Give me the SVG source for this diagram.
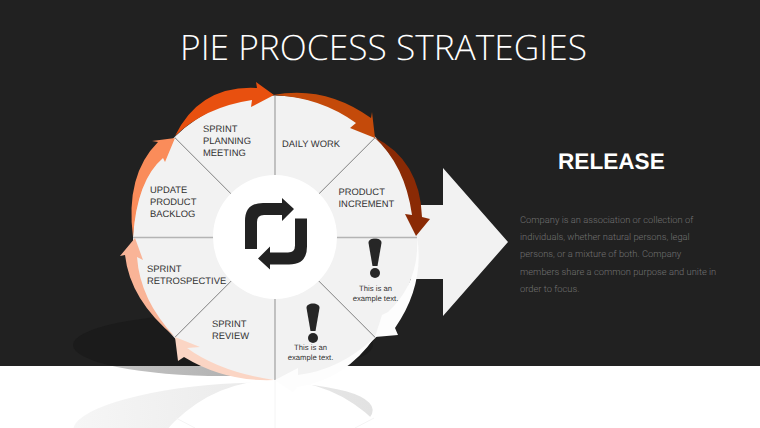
<svg xmlns="http://www.w3.org/2000/svg" width="760" height="428" viewBox="0 0 760 428">
<defs>
<style>
text{text-rendering:geometricPrecision}
.l{font-family:"Liberation Sans",Arial,sans-serif;font-size:9.4px;fill:#333}
.s{font-family:"Liberation Sans",Arial,sans-serif;font-size:7.7px;fill:#333;text-anchor:middle}
.b{font-family:Roboto,"Liberation Sans",sans-serif;font-weight:300;font-size:9.35px;fill:#727272}
.w{fill:#f2f2f2}
.v{stroke:#b4b4b4;stroke-width:1.6;fill:none}
.d{stroke:#8a8a8a;stroke-width:.8;fill:none}
</style>
<clipPath id="top"><rect width="760" height="366"/></clipPath>
<clipPath id="bot"><rect y="366" width="760" height="62"/></clipPath>
<linearGradient id="sh" x1="0" x2="1" y1="0" y2="0"><stop offset="0" stop-color="#c8c8c8"/><stop offset=".5" stop-color="#b4b4b4"/><stop offset="1" stop-color="#d8d8d8"/></linearGradient>
<linearGradient id="rf" x1="0" x2="1" y1="0" y2="0"><stop offset="0" stop-color="#f6f6f6"/><stop offset=".6" stop-color="#ebebeb"/><stop offset="1" stop-color="#e2e2e2"/></linearGradient>
<g id="ex"><path d="M368.500 243C368 237 382 237 381.500 243L377.500 266H372.500Z" fill="#262626"/><circle cx="375" cy="273" r="5" fill="#262626"/></g>
<path id="ic" d="M245 249V221Q245 203 263 203H282V198L294 209L282 221V215H264Q257 215 257 222V249Z"/>
</defs>
<rect width="760" height="366" fill="#212121"/>
<rect y="366" width="760" height="62" fill="#fff"/>
<g id="shadow">
<ellipse cx="223" cy="345" rx="150" ry="31" fill="#1b1b1b" clip-path="url(#top)"/>
<ellipse cx="223" cy="345" rx="150" ry="31" fill="url(#sh)" clip-path="url(#bot)"/>
<ellipse cx="223" cy="420" rx="150" ry="36" transform="rotate(-4 223 420)" fill="url(#rf)" clip-path="url(#bot)"/>
<circle cx="275" cy="522" r="142" fill="#fff" clip-path="url(#bot)"/>
<path d="M275 380V428M176 418L195 428M374 418L355 428" stroke="#f4f4f4" fill="none"/>
</g>
<g id="release-arrow"><path class="w" d="M380 205H443V168L508 242L443 316V279H380Z"/></g>
<g id="pie-daily-work"><path class="w" d="M275 95.500A142 142 0 0 1 375.400 137.100L275 237.500Z"/><text class="l" x="282" y="147">DAILY WORK</text></g>
<g id="pie-product-increment"><path class="w" d="M375.400 137.100A142 142 0 0 1 417 237.500H275Z"/><text class="l"><tspan x="338.500" y="195">PRODUCT</tspan><tspan x="338.500" y="206.500">INCREMENT</tspan></text></g>
<g id="pie-example-1"><path class="w" d="M417 237.500A142 142 0 0 1 375.400 337.900L275 237.500Z"/><use href="#ex"/><text class="s"><tspan x="375.500" y="291">This is an</tspan><tspan x="375.500" y="300.500">example text.</tspan></text></g>
<g id="pie-example-2"><path class="w" d="M375.400 337.900A142 142 0 0 1 275 379.500V237.500Z"/><use href="#ex" x="-62" y="65"/><text class="s"><tspan x="310.500" y="350">This is an</tspan><tspan x="310.500" y="359.500">example text.</tspan></text></g>
<g id="pie-sprint-review"><path class="w" d="M275 379.500A142 142 0 0 1 174.600 337.900L275 237.500Z"/><text class="l"><tspan x="212" y="327">SPRINT</tspan><tspan x="212" y="339">REVIEW</tspan></text></g>
<g id="pie-sprint-retrospective"><path class="w" d="M174.600 337.900A142 142 0 0 1 133 237.500H275Z"/><text class="l"><tspan x="147" y="272">SPRINT</tspan><tspan x="147" y="284">RETROSPECTIVE</tspan></text></g>
<g id="pie-update-backlog"><path class="w" d="M133 237.500A142 142 0 0 1 174.600 137.100L275 237.500Z"/><text class="l"><tspan x="150" y="193">UPDATE</tspan><tspan x="150" y="205">PRODUCT</tspan><tspan x="150" y="216.500">BACKLOG</tspan></text></g>
<g id="pie-sprint-planning"><path class="w" d="M174.600 137.100A142 142 0 0 1 275 95.500V237.500Z"/><text class="l"><tspan x="203" y="132">SPRINT</tspan><tspan x="203" y="144">PLANNING</tspan><tspan x="203" y="155.500">MEETING</tspan></text></g>
<g id="spokes">
<path class="v" d="M275 96V176M275 299V380M133 237.500H214M336 237.500H417"/>
<path class="d" d="M175 138L231 194M319 194L375 138M319 281L375 337M231 281L175 337"/>
</g>
<g id="connectors">
<path fill="#e8500f" d="M175 136Q200 85 257 88L256 82L274 95L251 107L252 100Q205 107 175 136Z"/>
<path fill="#c44a0a" d="M273 95Q325 85 371 118L372 112L375 138L350 128L356 123Q320 97 273 95Z"/>
<path fill="#8a2a05" d="M374 137Q420 160 422 217L430 219L416 236L405 214L412 215Q405 165 374 137Z"/>
<path fill="#fdfdfd" d="M417 236Q425 285 395 328L398 335L375 337L382 315L388 312Q420 282 417 236Z"/>
<path fill="#fdfdfd" d="M375 337Q345 380 297 387L293 392L275 380L298 368L298 375Q340 370 375 337Z"/>
<path fill="#fbd5c4" d="M274 380Q225 382 184 357L178 361L175 337L200 347L187 348Q220 372 274 380Z"/>
<path fill="#f9b497" d="M175 337Q130 300 125 255L120 256L135 238L143 260L137 257Q140 300 175 337Z"/>
<path fill="#fa8c5a" d="M133 237Q125 175 158 142L152 141L175 138L165 162L163 158Q137 180 133 237Z"/>
</g>
<g id="hub">
<circle cx="275" cy="237" r="62" fill="#fff"/>
<g fill="#222"><use href="#ic"/><use href="#ic" transform="rotate(180 276 233.750)"/></g>
</g>
<text x="383.500" y="60" text-anchor="middle" font-family="'Open Sans','Liberation Sans',sans-serif" font-weight="300" font-size="35" fill="#fff" textLength="407" lengthAdjust="spacingAndGlyphs">PIE PROCESS STRATEGIES</text>
<text x="558" y="169" font-family="'Liberation Sans',Arial,sans-serif" font-weight="700" font-size="22.600" fill="#fff">RELEASE</text>
<text class="b"><tspan x="520" y="223">Company is an association or collection of</tspan><tspan x="520" y="240">individuals, whether natural persons, legal</tspan><tspan x="520" y="257">persons, or a mixture of both. Company</tspan><tspan x="520" y="275">members share a common purpose and unite in</tspan><tspan x="520" y="292">order to focus.</tspan></text>
</svg>
